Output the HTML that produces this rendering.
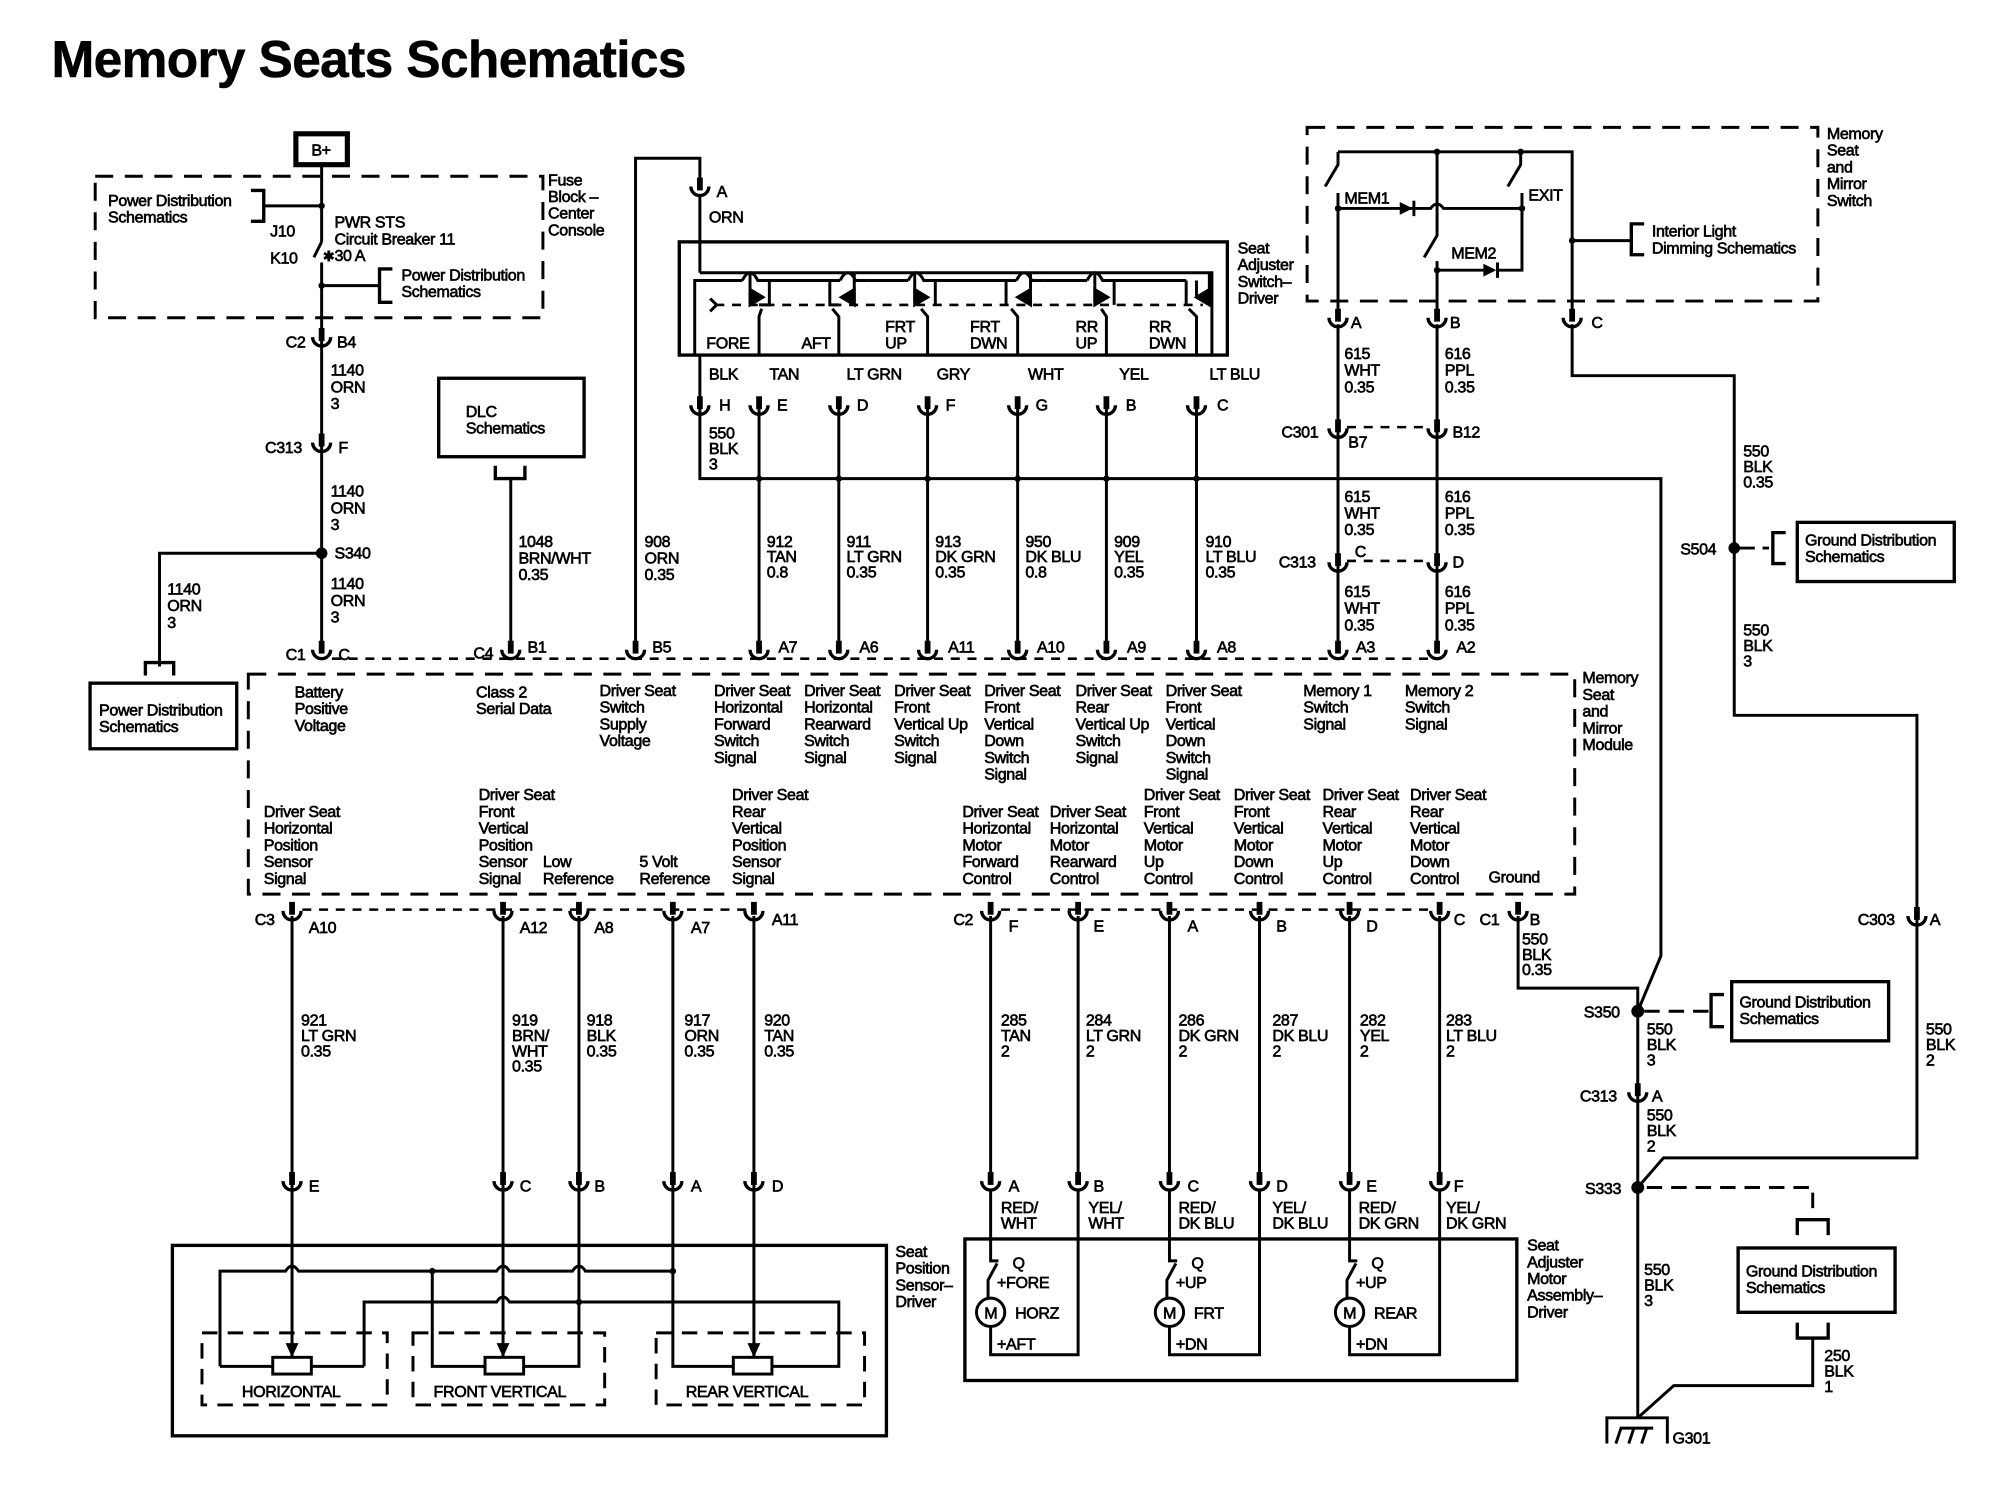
<!DOCTYPE html>
<html><head><meta charset="utf-8">
<style>
html,body{margin:0;padding:0;background:#fff;}
svg{display:block;}
text{font-family:"Liberation Sans",Arial,sans-serif;font-size:12.5px;fill:#000;stroke:#000;stroke-width:0.5px;letter-spacing:-0.3px;}
.w{stroke:#000;stroke-width:2.3;fill:none;}
.d{stroke:#000;stroke-width:2.3;fill:none;stroke-dasharray:14,9;}
.ds{stroke:#000;stroke-width:2;fill:none;stroke-dasharray:7,6;}
.b{stroke:#000;stroke-width:2.6;fill:none;}
</style></head>
<body>
<svg width="2016" height="1504" viewBox="0 0 1567 1169" preserveAspectRatio="none" xmlns="http://www.w3.org/2000/svg">
<defs>
<g id="c"><line x1="0" y1="-11" x2="0" y2="-1" stroke="#000" stroke-width="4.5"/><path d="M-7,-4 A7,7 0 0 0 7,-4" stroke="#000" stroke-width="2.6" fill="none"/></g>
</defs>
<rect width="1567" height="1169" fill="#fff"/>
<text x="40" y="60" style="font-size:40px;font-weight:bold;stroke-width:0.4px;letter-spacing:-0.5px">Memory Seats Schematics</text>

<!-- B+ -->
<rect x="230" y="104" width="40" height="24" fill="none" stroke="#000" stroke-width="4"/>
<text x="242" y="121">B+</text>
<rect class="d" x="74" y="137" width="348" height="110"/>
<text x="426" y="144"><tspan x="426">Fuse</tspan><tspan x="426" dy="13">Block –</tspan><tspan x="426" dy="13">Center</tspan><tspan x="426" dy="13">Console</tspan></text>
<line class="w" x1="250" y1="128" x2="250" y2="188"/>
<line class="w" x1="250" y1="160" x2="205" y2="160"/>
<path class="b" d="M195,148 H205 V172 H195"/>
<circle cx="250" cy="160" r="2.5"/>
<text x="84" y="160"><tspan x="84">Power Distribution</tspan><tspan x="84" dy="13">Schematics</tspan></text>
<line class="w" x1="250" y1="188" x2="244" y2="200"/>
<text x="251" y="203" style="font-size:11px">✱</text>
<text x="260" y="177"><tspan x="260">PWR STS</tspan><tspan x="260" dy="13">Circuit Breaker 11</tspan><tspan x="260" dy="13">30 A</tspan></text>
<text x="210" y="184">J10</text><text x="210" y="205">K10</text>
<line class="w" x1="250" y1="204" x2="250" y2="505"/>
<line class="w" x1="250" y1="222" x2="295" y2="222"/>
<circle cx="250" cy="222" r="2.5"/>
<path class="b" d="M305,209 H295 V235 H305"/>
<text x="312" y="218"><tspan x="312">Power Distribution</tspan><tspan x="312" dy="13">Schematics</tspan></text>
<use href="#c" x="250" y="266"/><text x="222" y="270">C2</text><text x="262" y="270">B4</text>
<text x="257" y="292"><tspan x="257">1140</tspan><tspan x="257" dy="13">ORN</tspan><tspan x="257" dy="13">3</tspan></text>
<use href="#c" x="250" y="348"/><text x="206" y="352">C313</text><text x="263" y="352">F</text>
<text x="257" y="386"><tspan x="257">1140</tspan><tspan x="257" dy="13">ORN</tspan><tspan x="257" dy="13">3</tspan></text>
<circle cx="250" cy="430" r="4.5"/><text x="260" y="434">S340</text>
<path class="w" d="M250,430 H124 V518"/>
<text x="130" y="462"><tspan x="130">1140</tspan><tspan x="130" dy="13">ORN</tspan><tspan x="130" dy="13">3</tspan></text>
<path class="b" d="M113,525 V515 H135 V525"/>
<rect x="70" y="531" width="114" height="51" fill="none" stroke="#000" stroke-width="2.6"/>
<text x="77" y="556"><tspan x="77">Power Distribution</tspan><tspan x="77" dy="13">Schematics</tspan></text>
<text x="257" y="458"><tspan x="257">1140</tspan><tspan x="257" dy="13">ORN</tspan><tspan x="257" dy="13">3</tspan></text>
<use href="#c" x="250" y="509"/><text x="222" y="513">C1</text><text x="263" y="513">C</text>

<!-- DLC -->
<rect x="341" y="294" width="113" height="61" fill="none" stroke="#000" stroke-width="2.6"/>
<text x="362" y="324"><tspan x="362">DLC</tspan><tspan x="362" dy="13">Schematics</tspan></text>
<path class="b" d="M385,362 V372 H408 V362"/>
<line class="w" x1="397" y1="372" x2="397" y2="505"/>
<text x="403" y="425"><tspan x="403">1048</tspan><tspan x="403" dy="13">BRN/WHT</tspan><tspan x="403" dy="13">0.35</tspan></text>
<use href="#c" x="397" y="509"/><text x="368" y="512">C4</text><text x="410" y="507">B1</text>

<!-- 908 -->
<path class="w" d="M494,505 V123 H544 V140"/>
<use href="#c" x="544" y="149"/><text x="557" y="153">A</text>
<text x="551" y="173">ORN</text>
<line class="w" x1="544" y1="152" x2="544" y2="212"/>
<text x="501" y="425"><tspan x="501">908</tspan><tspan x="501" dy="13">ORN</tspan><tspan x="501" dy="13">0.35</tspan></text>
<use href="#c" x="494" y="509"/><text x="507" y="507">B5</text>

<!-- seat adjuster switch -->
<rect x="528" y="188" width="426" height="88" fill="none" stroke="#000" stroke-width="2.6"/>
<path class="w" d="M544,212 H942 V276"/>
<path class="w" d="M540,276 V218 H577 M598,218 H653 M674,218 H706 M727,218 H790 M811,218 H845 M866,218 H922 M930,218 V230"/>
<g class="w">
<path d="M577,218 Q580,212 583,212 Q586,212 589,218 H598 V237 H590"/>
<path d="M583,212 V235"/><path d="M583,225 L593,231 L583,237 Z" fill="#000"/>
<path d="M653,218 Q656,212 659,212 Q662,212 665,218 H674"/>
<path d="M645,218 V237 H652"/><path d="M664,212 V237"/><path d="M664,225 L654,231 L664,237 Z" fill="#000"/>
<path d="M706,218 Q709,212 712,212 Q715,212 718,218 H727 V237"/><path d="M711,212 V235"/><path d="M711,225 L721,231 L711,237 Z" fill="#000"/>
<path d="M790,218 Q793,212 796,212 Q799,212 802,218 H811"/><path d="M782,218 V237"/><path d="M801,212 V237"/><path d="M801,225 L791,231 L801,237 Z" fill="#000"/>
<path d="M845,218 Q848,212 851,212 Q854,212 857,218 H866 V237"/><path d="M851,212 V235"/><path d="M851,225 L861,231 L851,237 Z" fill="#000"/>
<path d="M922,218 V237"/><path d="M940,212 V237"/><path d="M940,225 L930,231 L940,237 Z" fill="#000"/>
</g>
<line class="ds" x1="556" y1="237" x2="935" y2="237"/>
<path class="w" d="M552,232 L557,237 L552,242 M592,240 L590,246 V276 M647,240 L652,246 V276 M716,240 L721,246 V276 M786,240 L791,246 V276 M856,240 L860,246 V276 M924,240 L930,246 V276"/>
<text x="549" y="271">FORE</text><text x="623" y="271">AFT</text>
<text x="688" y="258"><tspan x="688">FRT</tspan><tspan x="688" dy="13">UP</tspan></text>
<text x="754" y="258"><tspan x="754">FRT</tspan><tspan x="754" dy="13">DWN</tspan></text>
<text x="836" y="258"><tspan x="836">RR</tspan><tspan x="836" dy="13">UP</tspan></text>
<text x="893" y="258"><tspan x="893">RR</tspan><tspan x="893" dy="13">DWN</tspan></text>
<text x="962" y="197"><tspan x="962">Seat</tspan><tspan x="962" dy="13">Adjuster</tspan><tspan x="962" dy="13">Switch–</tspan><tspan x="962" dy="13">Driver</tspan></text>
<line class="w" x1="544" y1="276" x2="544" y2="310"/>
<text x="551" y="295">BLK</text><text x="598" y="295">TAN</text><text x="658" y="295">LT GRN</text><text x="728" y="295">GRY</text><text x="799" y="295">WHT</text><text x="870" y="295">YEL</text><text x="940" y="295">LT BLU</text>
<use href="#c" x="544" y="319"/><text x="559" y="319">H</text>
<use href="#c" x="590" y="319"/><text x="604" y="319">E</text>
<use href="#c" x="652" y="319"/><text x="666" y="319">D</text>
<use href="#c" x="721" y="319"/><text x="735" y="319">F</text>
<use href="#c" x="791" y="319"/><text x="805" y="319">G</text>
<use href="#c" x="860" y="319"/><text x="875" y="319">B</text>
<use href="#c" x="930" y="319"/><text x="946" y="319">C</text>
<path class="w" d="M544,316 V372 H1291 V743 L1273,786"/>
<text x="551" y="341"><tspan x="551">550</tspan><tspan x="551" dy="12">BLK</tspan><tspan x="551" dy="12">3</tspan></text>
<g class="w"><path d="M590,316 V505 M652,316 V505 M721,316 V505 M791,316 V505 M860,316 V505 M930,316 V505"/></g>
<g>
<circle cx="590" cy="372" r="2.5"/><circle cx="652" cy="372" r="2.5"/><circle cx="721" cy="372" r="2.5"/><circle cx="791" cy="372" r="2.5"/><circle cx="860" cy="372" r="2.5"/><circle cx="930" cy="372" r="2.5"/>
</g>
<text x="596" y="425"><tspan x="596">912</tspan><tspan x="596" dy="12">TAN</tspan><tspan x="596" dy="12">0.8</tspan></text>
<text x="658" y="425"><tspan x="658">911</tspan><tspan x="658" dy="12">LT GRN</tspan><tspan x="658" dy="12">0.35</tspan></text>
<text x="727" y="425"><tspan x="727">913</tspan><tspan x="727" dy="12">DK GRN</tspan><tspan x="727" dy="12">0.35</tspan></text>
<text x="797" y="425"><tspan x="797">950</tspan><tspan x="797" dy="12">DK BLU</tspan><tspan x="797" dy="12">0.8</tspan></text>
<text x="866" y="425"><tspan x="866">909</tspan><tspan x="866" dy="12">YEL</tspan><tspan x="866" dy="12">0.35</tspan></text>
<text x="937" y="425"><tspan x="937">910</tspan><tspan x="937" dy="12">LT BLU</tspan><tspan x="937" dy="12">0.35</tspan></text>
<use href="#c" x="590" y="509"/><text x="605" y="507">A7</text>
<use href="#c" x="652" y="509"/><text x="668" y="507">A6</text>
<use href="#c" x="721" y="509"/><text x="737" y="507">A11</text>
<use href="#c" x="791" y="509"/><text x="806" y="507">A10</text>
<use href="#c" x="860" y="509"/><text x="876" y="507">A9</text>
<use href="#c" x="930" y="509"/><text x="946" y="507">A8</text>

<!-- memory switch -->
<rect class="d" x="1016" y="99" width="397" height="135"/>
<text x="1420" y="108"><tspan x="1420">Memory</tspan><tspan x="1420" dy="13">Seat</tspan><tspan x="1420" dy="13">and</tspan><tspan x="1420" dy="13">Mirror</tspan><tspan x="1420" dy="13">Switch</tspan></text>
<path class="w" d="M1040,118 H1222 V248"/>
<path class="w" d="M1040,118 V128 L1030,145"/>
<path class="w" d="M1040,150 V248"/>
<path class="w" d="M1040,162 H1098"/>
<path d="M1088,157 L1098,162 L1088,167 Z"/><line class="w" x1="1099" y1="156" x2="1099" y2="168"/>
<path class="w" d="M1099,162 H1112 Q1117,155 1122,162 H1183"/>
<path class="w" d="M1117,118 V183 L1107,200"/>
<circle cx="1117" cy="118" r="2.5"/>
<path class="w" d="M1182,118 V128 L1172,145"/><circle cx="1182" cy="118" r="2.5"/>
<path class="w" d="M1183,150 V210 H1163"/><circle cx="1183" cy="162" r="2.5"/>
<path d="M1153,205 L1163,210 L1153,215 Z"/><line class="w" x1="1164" y1="204" x2="1164" y2="216"/>
<path class="w" d="M1117,203 V248 M1117,210 H1153"/><circle cx="1117" cy="210" r="2.5"/>
<circle cx="1040" cy="162" r="2.5"/>
<text x="1045" y="158">MEM1</text><text x="1188" y="156">EXIT</text><text x="1128" y="201">MEM2</text>
<line class="w" x1="1222" y1="187" x2="1268" y2="187"/><circle cx="1222" cy="187" r="2.5"/>
<path class="b" d="M1278,174 H1268 V198 H1278"/>
<text x="1284" y="184"><tspan x="1284">Interior Light</tspan><tspan x="1284" dy="13">Dimming Schematics</tspan></text>
<use href="#c" x="1040" y="251"/><text x="1050" y="255">A</text>
<use href="#c" x="1117" y="251"/><text x="1127" y="255">B</text>
<use href="#c" x="1222" y="251"/><text x="1237" y="255">C</text>
<path class="w" d="M1040,252 V505 M1117,252 V505"/>
<text x="1045" y="279"><tspan x="1045">615</tspan><tspan x="1045" dy="13">WHT</tspan><tspan x="1045" dy="13">0.35</tspan></text>
<text x="1123" y="279"><tspan x="1123">616</tspan><tspan x="1123" dy="13">PPL</tspan><tspan x="1123" dy="13">0.35</tspan></text>
<use href="#c" x="1040" y="337"/><use href="#c" x="1117" y="337"/>
<line class="ds" x1="1047" y1="332" x2="1110" y2="332"/>
<text x="996" y="340">C301</text><text x="1048" y="348">B7</text><text x="1129" y="340">B12</text>
<text x="1045" y="390"><tspan x="1045">615</tspan><tspan x="1045" dy="13">WHT</tspan><tspan x="1045" dy="13">0.35</tspan></text>
<text x="1123" y="390"><tspan x="1123">616</tspan><tspan x="1123" dy="13">PPL</tspan><tspan x="1123" dy="13">0.35</tspan></text>
<use href="#c" x="1040" y="441"/><use href="#c" x="1117" y="441"/>
<line class="ds" x1="1047" y1="436" x2="1110" y2="436"/>
<text x="994" y="441">C313</text><text x="1053" y="433">C</text><text x="1129" y="441">D</text>
<text x="1045" y="464"><tspan x="1045">615</tspan><tspan x="1045" dy="13">WHT</tspan><tspan x="1045" dy="13">0.35</tspan></text>
<text x="1123" y="464"><tspan x="1123">616</tspan><tspan x="1123" dy="13">PPL</tspan><tspan x="1123" dy="13">0.35</tspan></text>
<use href="#c" x="1040" y="509"/><text x="1054" y="507">A3</text>
<use href="#c" x="1117" y="509"/><text x="1132" y="507">A2</text>
<line class="ds" x1="258" y1="512" x2="1110" y2="512"/>

<!-- right side ground -->
<path class="w" d="M1222,252 V292 H1348 V556 H1490 V900 H1293 L1273,923"/>
<text x="1355" y="355"><tspan x="1355">550</tspan><tspan x="1355" dy="12">BLK</tspan><tspan x="1355" dy="12">0.35</tspan></text>
<circle cx="1348" cy="426" r="4.5"/><text x="1306" y="431">S504</text>
<line class="d" x1="1352" y1="426" x2="1375" y2="426" style="stroke-dasharray:12,6"/>
<path class="b" d="M1388,414 H1378 V438 H1388"/>
<rect x="1397" y="406" width="122" height="46" fill="none" stroke="#000" stroke-width="2.6"/>
<text x="1403" y="424"><tspan x="1403">Ground Distribution</tspan><tspan x="1403" dy="13">Schematics</tspan></text>
<text x="1355" y="494"><tspan x="1355">550</tspan><tspan x="1355" dy="12">BLK</tspan><tspan x="1355" dy="12">3</tspan></text>
<use href="#c" x="1490" y="716"/><text x="1444" y="719">C303</text><text x="1500" y="719">A</text>
<text x="1497" y="804"><tspan x="1497">550</tspan><tspan x="1497" dy="12">BLK</tspan><tspan x="1497" dy="12">2</tspan></text>

<!-- module box -->
<rect class="d" x="193" y="524" width="1031" height="171"/>
<text x="1230" y="531"><tspan x="1230">Memory</tspan><tspan x="1230" dy="13">Seat</tspan><tspan x="1230" dy="13">and</tspan><tspan x="1230" dy="13">Mirror</tspan><tspan x="1230" dy="13">Module</tspan></text>
<text x="229" y="542"><tspan x="229">Battery</tspan><tspan x="229" dy="13">Positive</tspan><tspan x="229" dy="13">Voltage</tspan></text>
<text x="370" y="542"><tspan x="370">Class 2</tspan><tspan x="370" dy="13">Serial Data</tspan></text>
<text x="466" y="541"><tspan x="466">Driver Seat</tspan><tspan x="466" dy="13">Switch</tspan><tspan x="466" dy="13">Supply</tspan><tspan x="466" dy="13">Voltage</tspan></text>
<text x="555" y="541"><tspan x="555">Driver Seat</tspan><tspan x="555" dy="13">Horizontal</tspan><tspan x="555" dy="13">Forward</tspan><tspan x="555" dy="13">Switch</tspan><tspan x="555" dy="13">Signal</tspan></text>
<text x="625" y="541"><tspan x="625">Driver Seat</tspan><tspan x="625" dy="13">Horizontal</tspan><tspan x="625" dy="13">Rearward</tspan><tspan x="625" dy="13">Switch</tspan><tspan x="625" dy="13">Signal</tspan></text>
<text x="695" y="541"><tspan x="695">Driver Seat</tspan><tspan x="695" dy="13">Front</tspan><tspan x="695" dy="13">Vertical Up</tspan><tspan x="695" dy="13">Switch</tspan><tspan x="695" dy="13">Signal</tspan></text>
<text x="765" y="541"><tspan x="765">Driver Seat</tspan><tspan x="765" dy="13">Front</tspan><tspan x="765" dy="13">Vertical</tspan><tspan x="765" dy="13">Down</tspan><tspan x="765" dy="13">Switch</tspan><tspan x="765" dy="13">Signal</tspan></text>
<text x="836" y="541"><tspan x="836">Driver Seat</tspan><tspan x="836" dy="13">Rear</tspan><tspan x="836" dy="13">Vertical Up</tspan><tspan x="836" dy="13">Switch</tspan><tspan x="836" dy="13">Signal</tspan></text>
<text x="906" y="541"><tspan x="906">Driver Seat</tspan><tspan x="906" dy="13">Front</tspan><tspan x="906" dy="13">Vertical</tspan><tspan x="906" dy="13">Down</tspan><tspan x="906" dy="13">Switch</tspan><tspan x="906" dy="13">Signal</tspan></text>
<text x="1013" y="541"><tspan x="1013">Memory 1</tspan><tspan x="1013" dy="13">Switch</tspan><tspan x="1013" dy="13">Signal</tspan></text>
<text x="1092" y="541"><tspan x="1092">Memory 2</tspan><tspan x="1092" dy="13">Switch</tspan><tspan x="1092" dy="13">Signal</tspan></text>

<text x="205" y="635"><tspan x="205">Driver Seat</tspan><tspan x="205" dy="13">Horizontal</tspan><tspan x="205" dy="13">Position</tspan><tspan x="205" dy="13">Sensor</tspan><tspan x="205" dy="13">Signal</tspan></text>
<text x="372" y="622"><tspan x="372">Driver Seat</tspan><tspan x="372" dy="13">Front</tspan><tspan x="372" dy="13">Vertical</tspan><tspan x="372" dy="13">Position</tspan><tspan x="372" dy="13">Sensor</tspan><tspan x="372" dy="13">Signal</tspan></text>
<text x="422" y="674"><tspan x="422">Low</tspan><tspan x="422" dy="13">Reference</tspan></text>
<text x="497" y="674"><tspan x="497">5 Volt</tspan><tspan x="497" dy="13">Reference</tspan></text>
<text x="569" y="622"><tspan x="569">Driver Seat</tspan><tspan x="569" dy="13">Rear</tspan><tspan x="569" dy="13">Vertical</tspan><tspan x="569" dy="13">Position</tspan><tspan x="569" dy="13">Sensor</tspan><tspan x="569" dy="13">Signal</tspan></text>
<text x="748" y="635"><tspan x="748">Driver Seat</tspan><tspan x="748" dy="13">Horizontal</tspan><tspan x="748" dy="13">Motor</tspan><tspan x="748" dy="13">Forward</tspan><tspan x="748" dy="13">Control</tspan></text>
<text x="816" y="635"><tspan x="816">Driver Seat</tspan><tspan x="816" dy="13">Horizontal</tspan><tspan x="816" dy="13">Motor</tspan><tspan x="816" dy="13">Rearward</tspan><tspan x="816" dy="13">Control</tspan></text>
<text x="889" y="622"><tspan x="889">Driver Seat</tspan><tspan x="889" dy="13">Front</tspan><tspan x="889" dy="13">Vertical</tspan><tspan x="889" dy="13">Motor</tspan><tspan x="889" dy="13">Up</tspan><tspan x="889" dy="13">Control</tspan></text>
<text x="959" y="622"><tspan x="959">Driver Seat</tspan><tspan x="959" dy="13">Front</tspan><tspan x="959" dy="13">Vertical</tspan><tspan x="959" dy="13">Motor</tspan><tspan x="959" dy="13">Down</tspan><tspan x="959" dy="13">Control</tspan></text>
<text x="1028" y="622"><tspan x="1028">Driver Seat</tspan><tspan x="1028" dy="13">Rear</tspan><tspan x="1028" dy="13">Vertical</tspan><tspan x="1028" dy="13">Motor</tspan><tspan x="1028" dy="13">Up</tspan><tspan x="1028" dy="13">Control</tspan></text>
<text x="1096" y="622"><tspan x="1096">Driver Seat</tspan><tspan x="1096" dy="13">Rear</tspan><tspan x="1096" dy="13">Vertical</tspan><tspan x="1096" dy="13">Motor</tspan><tspan x="1096" dy="13">Down</tspan><tspan x="1096" dy="13">Control</tspan></text>
<text x="1157" y="686">Ground</text>

<!-- bottom connectors -->
<line class="ds" x1="235" y1="707" x2="580" y2="707"/>
<line class="ds" x1="778" y1="707" x2="1112" y2="707"/>
<g>
<use href="#c" x="227" y="712"/><use href="#c" x="391" y="712"/><use href="#c" x="450" y="712"/><use href="#c" x="523" y="712"/><use href="#c" x="586" y="712"/>
<use href="#c" x="770" y="712"/><use href="#c" x="838" y="712"/><use href="#c" x="909" y="712"/><use href="#c" x="979" y="712"/><use href="#c" x="1049" y="712"/><use href="#c" x="1119" y="712"/><use href="#c" x="1180" y="712"/>
</g>
<text x="198" y="719">C3</text><text x="240" y="725">A10</text><text x="404" y="725">A12</text><text x="462" y="725">A8</text><text x="537" y="725">A7</text><text x="600" y="719">A11</text>
<text x="741" y="719">C2</text><text x="784" y="724">F</text><text x="850" y="724">E</text><text x="923" y="724">A</text><text x="992" y="724">B</text><text x="1062" y="724">D</text><text x="1130" y="719">C</text>
<text x="1150" y="719">C1</text><text x="1189" y="719">B</text>
<path class="w" d="M1180,712 V768 H1273 V1102"/>
<text x="1183" y="734"><tspan x="1183">550</tspan><tspan x="1183" dy="12">BLK</tspan><tspan x="1183" dy="12">0.35</tspan></text>
<circle cx="1273" cy="786" r="5"/><text x="1231" y="791">S350</text>
<line class="d" x1="1278" y1="786" x2="1330" y2="786" style="stroke-dasharray:12,7"/>
<path class="b" d="M1340,773 H1330 V798 H1340"/>
<rect x="1346" y="763" width="122" height="46" fill="none" stroke="#000" stroke-width="2.6"/>
<text x="1352" y="783"><tspan x="1352">Ground Distribution</tspan><tspan x="1352" dy="13">Schematics</tspan></text>
<text x="1280" y="804"><tspan x="1280">550</tspan><tspan x="1280" dy="12">BLK</tspan><tspan x="1280" dy="12">3</tspan></text>
<use href="#c" x="1273" y="853"/><text x="1228" y="856">C313</text><text x="1284" y="856">A</text>
<text x="1280" y="871"><tspan x="1280">550</tspan><tspan x="1280" dy="12">BLK</tspan><tspan x="1280" dy="12">2</tspan></text>
<circle cx="1273" cy="923" r="5"/><text x="1232" y="928">S333</text>
<path class="d" d="M1280,923 H1409 V945" style="stroke-dasharray:12,7"/>
<path class="b" d="M1397,960 V948 H1421 V960"/>
<rect x="1351" y="970" width="122" height="50" fill="none" stroke="#000" stroke-width="2.6"/>
<text x="1357" y="992"><tspan x="1357">Ground Distribution</tspan><tspan x="1357" dy="13">Schematics</tspan></text>
<path class="b" d="M1397,1028 V1040 H1421 V1028"/>
<path class="w" d="M1409,1040 V1077 H1301 L1273,1102"/>
<text x="1418" y="1058"><tspan x="1418">250</tspan><tspan x="1418" dy="12">BLK</tspan><tspan x="1418" dy="12">1</tspan></text>
<text x="1278" y="991"><tspan x="1278">550</tspan><tspan x="1278" dy="12">BLK</tspan><tspan x="1278" dy="12">3</tspan></text>
<path class="w" d="M1249,1122 V1102 H1296 V1122 M1256,1122 L1260,1110 H1285 M1266,1122 L1270,1110 M1276,1122 L1280,1110"/>
<text x="1300" y="1122">G301</text>

<!-- sensor wires -->
<path class="w" d="M227,712 V1054 M391,712 V1054 M450,712 V1012 M523,712 V1062 H570 M586,712 V1054"/>
<g>
<path d="M222,1044 L227,1055 L232,1044 Z"/><path d="M386,1044 L391,1055 L396,1044 Z"/><path d="M581,1044 L586,1055 L591,1044 Z"/>
</g>
<text x="234" y="797"><tspan x="234">921</tspan><tspan x="234" dy="12">LT GRN</tspan><tspan x="234" dy="12">0.35</tspan></text>
<text x="398" y="797"><tspan x="398">919</tspan><tspan x="398" dy="12">BRN/</tspan><tspan x="398" dy="12">WHT</tspan><tspan x="398" dy="12">0.35</tspan></text>
<text x="456" y="797"><tspan x="456">918</tspan><tspan x="456" dy="12">BLK</tspan><tspan x="456" dy="12">0.35</tspan></text>
<text x="532" y="797"><tspan x="532">917</tspan><tspan x="532" dy="12">ORN</tspan><tspan x="532" dy="12">0.35</tspan></text>
<text x="594" y="797"><tspan x="594">920</tspan><tspan x="594" dy="12">TAN</tspan><tspan x="594" dy="12">0.35</tspan></text>
<use href="#c" x="227" y="922"/><use href="#c" x="391" y="922"/><use href="#c" x="450" y="922"/><use href="#c" x="523" y="922"/><use href="#c" x="586" y="922"/>
<text x="240" y="926">E</text><text x="404" y="926">C</text><text x="462" y="926">B</text><text x="537" y="926">A</text><text x="600" y="926">D</text>

<rect x="134" y="968" width="555" height="148" fill="none" stroke="#000" stroke-width="2.6"/>
<text x="696" y="977"><tspan x="696">Seat</tspan><tspan x="696" dy="13">Position</tspan><tspan x="696" dy="13">Sensor–</tspan><tspan x="696" dy="13">Driver</tspan></text>
<path class="w" d="M171,1062 V988 H222 Q227,980 232,988 H386 Q391,980 396,988 H445 Q450,980 455,988 H523"/>
<circle cx="336" cy="988" r="2.5"/><circle cx="523" cy="988" r="2.5"/><circle cx="450" cy="1012" r="2.5"/>
<path class="w" d="M336,988 V1062 H377"/>
<path class="w" d="M283,1062 V1012 H386 Q391,1004 396,1012 H652 V1062 H600"/>
<path class="w" d="M171,1062 H212 M242,1062 H283 M407,1062 H450 V1012"/>
<rect x="212" y="1055" width="30" height="13" fill="#fff" stroke="#000" stroke-width="2.3"/>
<rect x="377" y="1055" width="30" height="13" fill="#fff" stroke="#000" stroke-width="2.3"/>
<rect x="570" y="1055" width="30" height="13" fill="#fff" stroke="#000" stroke-width="2.3"/>
<rect class="d" x="157" y="1036" width="144" height="56" style="stroke-dasharray:12,8"/>
<rect class="d" x="321" y="1036" width="149" height="56" style="stroke-dasharray:12,8"/>
<rect class="d" x="510" y="1036" width="162" height="56" style="stroke-dasharray:12,8"/>
<text x="188" y="1086">HORIZONTAL</text><text x="337" y="1086">FRONT VERTICAL</text><text x="533" y="1086">REAR VERTICAL</text>

<!-- motor wires -->
<text x="778" y="797"><tspan x="778">285</tspan><tspan x="778" dy="12">TAN</tspan><tspan x="778" dy="12">2</tspan></text>
<text x="844" y="797"><tspan x="844">284</tspan><tspan x="844" dy="12">LT GRN</tspan><tspan x="844" dy="12">2</tspan></text>
<text x="916" y="797"><tspan x="916">286</tspan><tspan x="916" dy="12">DK GRN</tspan><tspan x="916" dy="12">2</tspan></text>
<text x="989" y="797"><tspan x="989">287</tspan><tspan x="989" dy="12">DK BLU</tspan><tspan x="989" dy="12">2</tspan></text>
<text x="1057" y="797"><tspan x="1057">282</tspan><tspan x="1057" dy="12">YEL</tspan><tspan x="1057" dy="12">2</tspan></text>
<text x="1124" y="797"><tspan x="1124">283</tspan><tspan x="1124" dy="12">LT BLU</tspan><tspan x="1124" dy="12">2</tspan></text>
<use href="#c" x="770" y="922"/><use href="#c" x="838" y="922"/><use href="#c" x="909" y="922"/><use href="#c" x="979" y="922"/><use href="#c" x="1049" y="922"/><use href="#c" x="1119" y="922"/>
<text x="784" y="926">A</text><text x="850" y="926">B</text><text x="923" y="926">C</text><text x="992" y="926">D</text><text x="1062" y="926">E</text><text x="1130" y="926">F</text>
<text x="778" y="943"><tspan x="778">RED/</tspan><tspan x="778" dy="12">WHT</tspan></text>
<text x="846" y="943"><tspan x="846">YEL/</tspan><tspan x="846" dy="12">WHT</tspan></text>
<text x="916" y="943"><tspan x="916">RED/</tspan><tspan x="916" dy="12">DK BLU</tspan></text>
<text x="989" y="943"><tspan x="989">YEL/</tspan><tspan x="989" dy="12">DK BLU</tspan></text>
<text x="1056" y="943"><tspan x="1056">RED/</tspan><tspan x="1056" dy="12">DK GRN</tspan></text>
<text x="1124" y="943"><tspan x="1124">YEL/</tspan><tspan x="1124" dy="12">DK GRN</tspan></text>
<rect x="750" y="963" width="429" height="110" fill="none" stroke="#000" stroke-width="2.6"/>
<text x="1187" y="972"><tspan x="1187">Seat</tspan><tspan x="1187" dy="13">Adjuster</tspan><tspan x="1187" dy="13">Motor</tspan><tspan x="1187" dy="13">Assembly–</tspan><tspan x="1187" dy="13">Driver</tspan></text>
<g>
<path class="w" d="M770,924 V980 H776 M775,982 L768,995 V1009 M770,1031 V1053 H838 V924"/>
<circle cx="770" cy="1020" r="11" fill="#fff" stroke="#000" stroke-width="2.3"/>
<text x="765" y="1025">M</text><text x="787" y="986">Q</text><text x="775" y="1001">+FORE</text><text x="789" y="1025">HORZ</text><text x="775" y="1049">+AFT</text>
<path class="w" d="M909,924 V980 H915 M914,982 L907,995 V1009 M909,1031 V1053 H979 V924"/>
<circle cx="909" cy="1020" r="11" fill="#fff" stroke="#000" stroke-width="2.3"/>
<text x="904" y="1025">M</text><text x="926" y="986">Q</text><text x="914" y="1001">+UP</text><text x="928" y="1025">FRT</text><text x="914" y="1049">+DN</text>
<path class="w" d="M1049,924 V980 H1055 M1054,982 L1047,995 V1009 M1049,1031 V1053 H1119 V924"/>
<circle cx="1049" cy="1020" r="11" fill="#fff" stroke="#000" stroke-width="2.3"/>
<text x="1044" y="1025">M</text><text x="1066" y="986">Q</text><text x="1054" y="1001">+UP</text><text x="1068" y="1025">REAR</text><text x="1054" y="1049">+DN</text>
</g>
<path class="w" d="M770,712 V920 M838,712 V920 M909,712 V920 M979,712 V920 M1049,712 V920 M1119,712 V920"/>
</svg>
</body></html>
